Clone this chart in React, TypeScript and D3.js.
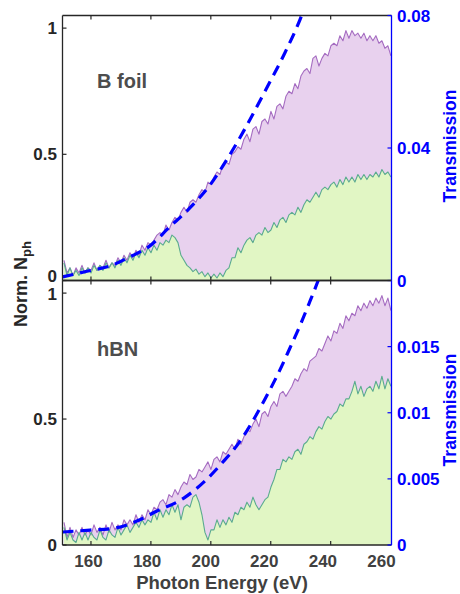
import React from 'react';
import * as d3 from 'd3';

// ---------- data ----------
const E_MIN = 150.5;
const E_MAX = 260.3;

// B foil panel (left axis, normalised photon number), ~1 eV grid from 151 to 260 eV
const bFoilPurple = [
  0.08, 0.03, 0.05, 0.02, 0.05, 0.03, 0.06, 0.03, 0.05, 0.04,
  0.07, 0.04, 0.06, 0.05, 0.08, 0.05, 0.07, 0.06, 0.09, 0.07,
  0.10, 0.08, 0.11, 0.09, 0.12, 0.10, 0.14, 0.12, 0.15, 0.14,
  0.16, 0.18, 0.19, 0.18, 0.22, 0.20, 0.23, 0.25, 0.24, 0.27,
  0.29, 0.27, 0.31, 0.32, 0.31, 0.34, 0.36, 0.35, 0.39, 0.38,
  0.41, 0.43, 0.42, 0.46, 0.47, 0.46, 0.50, 0.51, 0.53, 0.52,
  0.56, 0.58, 0.55, 0.60, 0.61, 0.58, 0.63, 0.64, 0.62, 0.67,
  0.64, 0.69, 0.70, 0.68, 0.73, 0.75, 0.74, 0.78, 0.76, 0.81,
  0.83, 0.84, 0.82, 0.88, 0.89, 0.85, 0.88, 0.90, 0.89, 0.93,
  0.94, 0.93, 0.97, 0.95, 0.99, 0.96, 0.99, 0.97, 0.98, 0.96,
  0.98, 0.95, 0.97, 0.95, 0.97, 0.94, 0.95, 0.92, 0.93, 0.89,
];
const bFoilGreen = [
  0.07, 0.02, 0.05, 0.02, 0.04, 0.02, 0.05, 0.03, 0.05, 0.03,
  0.06, 0.04, 0.06, 0.04, 0.07, 0.05, 0.07, 0.05, 0.08, 0.06,
  0.09, 0.07, 0.10, 0.08, 0.11, 0.09, 0.12, 0.10, 0.13, 0.11,
  0.14, 0.12, 0.15, 0.14, 0.16, 0.15, 0.18, 0.17, 0.15, 0.10,
  0.08, 0.06, 0.05, 0.035, 0.045, 0.025, 0.035, 0.015, 0.03, 0.01,
  0.025, 0.01, 0.03, 0.015, 0.04, 0.05, 0.09, 0.09, 0.13, 0.11,
  0.14, 0.16, 0.17, 0.15, 0.18, 0.19, 0.18, 0.21, 0.19, 0.20,
  0.23, 0.21, 0.24, 0.25, 0.23, 0.26, 0.27, 0.26, 0.29, 0.27,
  0.30, 0.32, 0.31, 0.33, 0.35, 0.33, 0.36, 0.37, 0.36, 0.38,
  0.39, 0.37, 0.40, 0.38, 0.41, 0.39, 0.41, 0.39, 0.42, 0.40,
  0.42, 0.40, 0.42, 0.41, 0.43, 0.41, 0.44, 0.42, 0.43, 0.41,
];
// hBN panel
const hbnPurple = [
  0.09, 0.03, 0.07, 0.03, 0.06, 0.04, 0.07, 0.04, 0.06, 0.04,
  0.08, 0.05, 0.07, 0.04, 0.08, 0.05, 0.09, 0.06, 0.08, 0.06,
  0.10, 0.08, 0.10, 0.08, 0.12, 0.09, 0.12, 0.10, 0.14, 0.12,
  0.15, 0.14, 0.17, 0.18, 0.16, 0.20, 0.19, 0.22, 0.20, 0.23,
  0.25, 0.24, 0.28, 0.26, 0.27, 0.30, 0.29, 0.31, 0.33, 0.30,
  0.34, 0.35, 0.33, 0.37, 0.36, 0.38, 0.40, 0.38, 0.42, 0.40,
  0.43, 0.46, 0.45, 0.48, 0.50, 0.47, 0.52, 0.53, 0.51, 0.55,
  0.57, 0.55, 0.60, 0.61, 0.59, 0.61, 0.63, 0.66, 0.65, 0.68,
  0.70, 0.69, 0.73, 0.74, 0.75, 0.78, 0.77, 0.80, 0.83, 0.81,
  0.85, 0.84, 0.88, 0.86, 0.91, 0.89, 0.92, 0.91, 0.95, 0.93,
  0.96, 0.94, 0.97, 0.95, 0.98, 0.96, 0.99, 0.95, 0.98, 0.93,
];
const hbnGreen = [
  0.07, 0.02, 0.05, 0.02, 0.01, 0.05, 0.02, 0.05, 0.02, 0.05,
  0.03, 0.02, 0.06, 0.03, 0.02, 0.06, 0.04, 0.03, 0.07, 0.04,
  0.06, 0.08, 0.05, 0.07, 0.09, 0.07, 0.10, 0.08, 0.10, 0.09,
  0.13, 0.10, 0.14, 0.11, 0.14, 0.12, 0.16, 0.13, 0.16, 0.10,
  0.15, 0.16, 0.15, 0.19, 0.20, 0.17, 0.12, 0.05, 0.02, 0.06,
  0.06, 0.10, 0.07, 0.10, 0.08, 0.11, 0.09, 0.13, 0.12, 0.15,
  0.14, 0.17, 0.15, 0.19, 0.16, 0.14, 0.16, 0.18, 0.19, 0.23,
  0.26, 0.30, 0.30, 0.34, 0.33, 0.35, 0.34, 0.37, 0.38, 0.36,
  0.40, 0.41, 0.43, 0.42, 0.45, 0.47, 0.46, 0.49, 0.51, 0.50,
  0.52, 0.53, 0.56, 0.55, 0.58, 0.58, 0.61, 0.65, 0.60, 0.63,
  0.59, 0.62, 0.63, 0.61, 0.65, 0.62, 0.67, 0.62, 0.66, 0.63,
];

// transmission curves (right axis)
const bFoilTransE = [150.5, 158.3, 166.7, 174, 179, 186.3, 193, 199.7, 205.7, 212, 218, 224.7, 229.7, 232];
const bFoilTransT = [0.0011, 0.0027, 0.0045, 0.0076, 0.0100, 0.0162, 0.0219, 0.0288, 0.0370, 0.0468, 0.0570, 0.0687, 0.0786, 0.0840];
const hbnTransE = [150.5, 159.7, 168, 175.3, 181.7, 191, 198, 203.7, 209.3, 213.7, 218, 223.7, 226.3, 229.7, 233, 235.7, 238];
const hbnTransT = [0.00098, 0.00113, 0.00128, 0.00181, 0.00253, 0.00355, 0.00483, 0.00619, 0.0077, 0.00926, 0.0110, 0.01354, 0.01484, 0.01656, 0.01838, 0.01992, 0.02136];

const xTicks = [160, 180, 200, 220, 240, 260];
const leftTicks = [0, 0.5, 1];
const bFoilRightTicks = [0, 0.04, 0.08];
const hbnRightTicks = [0, 0.005, 0.01, 0.015];
const panelNames = ['B foil', 'hBN'];

// ---------- layout ----------
const W = 460;
const H = 594;
const L = 62.5;
const R = 391.5;
const FONT = "'Liberation Sans', Arial, Helvetica, sans-serif";
const DARK = '#262626';
const BLUE = '#0000ff';
const PURPLE = '#a56cc1';
const PURPLE_FILL = '#e8d1ee';
const GREEN = '#5aab8f';
const GREEN_FILL = '#e1f6c4';

const energy = d3.range(bFoilPurple.length).map(
  (i) => E_MIN + 0.5 + (i * (E_MAX - E_MIN - 0.7)) / (bFoilPurple.length - 1)
);

const x = d3.scaleLinear().domain([E_MIN, E_MAX]).range([L, R]);
// tick labels in the reference are drawn slightly compressed towards the left
const xLabel = (v: number) => 88.5 + (v - 160) * 2.93;

type Panel = {
  top: number;
  bottom: number;
  purple: number[];
  green: number[];
  tE: number[];
  tT: number[];
  rMax: number;
  rTicks: number[];
  name: string;
  nameY: number;
  transY: number;
  zeroNudge: number;
  oneNudge: number;
  id: string;
};

const panels: Panel[] = [
  { top: 15.5, bottom: 280.5, purple: bFoilPurple, green: bFoilGreen, tE: bFoilTransE, tT: bFoilTransT, rMax: 0.08, rTicks: bFoilRightTicks, name: panelNames[0], nameY: 88, transY: 146, zeroNudge: -4.5, oneNudge: 0, id: 'p0' },
  { top: 280.5, bottom: 545, purple: hbnPurple, green: hbnGreen, tE: hbnTransE, tT: hbnTransT, rMax: 0.02, rTicks: hbnRightTicks, name: panelNames[1], nameY: 356, transY: 410, zeroNudge: 0, oneNudge: 0.5, id: 'p1' },
];

function PanelView({ p, showX }: { p: Panel; showX: boolean }) {
  const yL = d3.scaleLinear().domain([0, 1.05]).range([p.bottom, p.top]);
  const yR = d3.scaleLinear().domain([0, p.rMax]).range([p.bottom, p.top]);
  const area = (vals: number[]) =>
    d3.area<number>().x((_, i) => x(energy[i])).y0(yL(0)).y1((d) => yL(d))(vals) || '';
  const line = (vals: number[]) =>
    d3.line<number>().x((_, i) => x(energy[i])).y((d) => yL(d))(vals) || '';
  const trans =
    d3
      .line<number>()
      .x((_, i) => x(p.tE[i]))
      .y((d) => yR(d))
      .curve(d3.curveMonotoneX)(p.tT) || '';
  const tickX = xTicks.filter((t) => t < 255);
  const nudge = (t: number) => (t === 0 ? p.zeroNudge : t === 1 ? p.oneNudge : 0);
  return (
    <g>
      <defs>
        <clipPath id={p.id}>
          <rect x={L} y={p.top} width={R - L} height={p.bottom - p.top} />
        </clipPath>
      </defs>
      <g clipPath={`url(#${p.id})`}>
        <path d={area(p.purple)} fill={PURPLE_FILL} />
        <path d={area(p.green)} fill={GREEN_FILL} />
        <path d={line(p.purple)} fill="none" stroke={PURPLE} strokeWidth={1.1} strokeLinejoin="round" />
        <path d={line(p.green)} fill="none" stroke={GREEN} strokeWidth={1.1} strokeLinejoin="round" />
        <path d={trans} fill="none" stroke={BLUE} strokeWidth={3.2} strokeDasharray="11 7" />
      </g>
      {/* box */}
      <line x1={L} x2={R} y1={p.top} y2={p.top} stroke={DARK} strokeWidth={1.3} />
      <line x1={L} x2={R} y1={p.bottom} y2={p.bottom} stroke={DARK} strokeWidth={1.3} />
      <line x1={L} x2={L} y1={p.top} y2={p.bottom} stroke={DARK} strokeWidth={1.3} />
      <line x1={R} x2={R} y1={p.top} y2={p.bottom} stroke={BLUE} strokeWidth={1.3} />
      {/* x ticks */}
      {tickX.map((t) => (
        <g key={'xt' + t}>
          <line x1={x(t)} x2={x(t)} y1={p.bottom} y2={p.bottom - 4} stroke={DARK} strokeWidth={1.2} />
          <line x1={x(t)} x2={x(t)} y1={p.top} y2={p.top + 4} stroke={DARK} strokeWidth={1.2} />
        </g>
      ))}
      {showX &&
        xTicks.map((t) => (
          <text key={'xl' + t} x={xLabel(t)} y={567} textAnchor="middle" fontFamily={FONT} fontWeight="bold" fontSize={17} fill="#404040">
            {t}
          </text>
        ))}
      {/* left ticks */}
      {leftTicks.map((t) => (
        <g key={'lt' + t}>
          <line x1={L} x2={L + 4} y1={yL(t)} y2={yL(t)} stroke={DARK} strokeWidth={1.2} />
          <text x={57} y={yL(t) + nudge(t)} dy="0.36em" textAnchor="end" fontFamily={FONT} fontWeight="bold" fontSize={17} fill={DARK}>
            {String(t)}
          </text>
        </g>
      ))}
      {/* right ticks */}
      {p.rTicks.map((t) => (
        <g key={'rt' + t}>
          <line x1={R - 4} x2={R} y1={yR(t)} y2={yR(t)} stroke={BLUE} strokeWidth={1.2} />
          <text x={397} y={yR(t)} dy="0.36em" textAnchor="start" fontFamily={FONT} fontWeight="bold" fontSize={17} fill={BLUE}>
            {String(t)}
          </text>
        </g>
      ))}
      <text x={97} y={p.nameY} fontFamily={FONT} fontWeight="bold" fontSize={20} fill="#4d4d4d">
        {p.name}
      </text>
      <text transform={`translate(455.5, ${p.transY}) rotate(-90)`} textAnchor="middle" fontFamily={FONT} fontWeight="bold" fontSize={17.5} fill={BLUE}>
        Transmission
      </text>
    </g>
  );
}

export default function App() {
  return (
    <svg width={W} height={H} viewBox={`0 0 ${W} ${H}`} style={{ position: 'absolute', left: 0, top: 0, background: '#fff' }}>
      <rect x={0} y={0} width={W} height={H} fill="#fff" />
      {panels.map((p, i) => (
        <PanelView key={p.id} p={p} showX={i === 1} />
      ))}
      <text x={222} y={589} textAnchor="middle" fontFamily={FONT} fontWeight="bold" fontSize={18.5} fill="#404040">
        Photon Energy (eV)
      </text>
      <text transform="translate(27, 284) rotate(-90)" textAnchor="middle" fontFamily={FONT} fontWeight="bold" fontSize={18} fill={DARK}>
        Norm. N
        <tspan fontSize={13} dy={4}>ph</tspan>
      </text>
    </svg>
  );
}
